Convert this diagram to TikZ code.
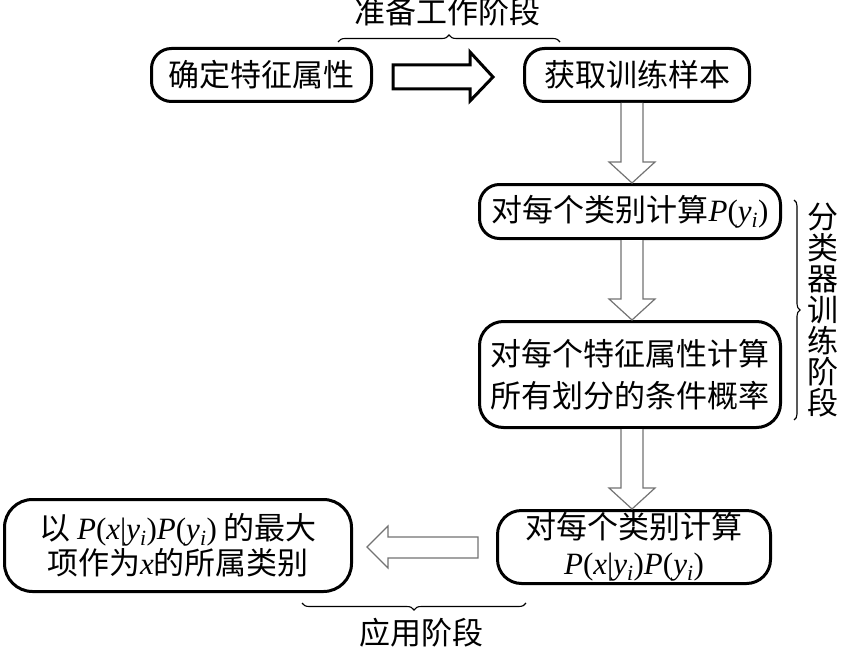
\documentclass[tikz,border=0pt]{standalone}
\usepackage{fontspec}
\setmainfont{Liberation Serif}
\newfontfamily\cjk{Noto Sans CJK SC}
\usetikzlibrary{calc,decorations.pathreplacing}
\newcommand\Pyi{{\rmfamily\textit{P}(\textit{y}\textsubscript{\textit{i}})}}
\newcommand\Pxyi{{\rmfamily\textit{P}(\textit{x}|\textit{y}\textsubscript{\textit{i}})}}
\newcommand\hdarrow[2]{%
  \draw[hollow]
    ($(ax |- #1.south)+(-11,0)$) -- ($(ax |- #2.north)+(-11,-21)$)
    -- ($(ax |- #2.north)+(-23,-21)$) -- (ax |- #2.north)
    -- ($(ax |- #2.north)+(23,-21)$) -- ($(ax |- #2.north)+(11,-21)$)
    -- ($(ax |- #1.south)+(11,0)$);}
\tikzset{
  box/.style={draw, line width=3pt, rounded corners=20pt, inner sep=0pt, align=center},
  hollow/.style={draw=black!55, line width=1.2pt, fill=white},
  bigarrow/.style={draw=black, line width=3pt, fill=white, line join=miter},
  brace/.style={decorate, decoration={brace, amplitude=7pt}, line width=1.1pt},
  lbl/.style={inner sep=0pt}
}
\begin{document}
\begin{tikzpicture}[x=1pt,y=-1pt, font=\cjk\fontsize{31}{34}\selectfont]
\useasboundingbox[fill=white] (0,0) rectangle (842,650);
\coordinate (ax) at (632,0);
% boxes
\node[box, minimum width=220pt, minimum height=53pt] (b1) at (261.5,75) {确定特征属性};
\node[box, minimum width=225pt, minimum height=53pt] (b2) at (637,75) {获取训练样本};
\node[box, minimum width=301pt, minimum height=54pt] (b3) at (630,211.5) {对每个类别计算\Pyi};
\node[box, minimum width=301pt, minimum height=106pt, rounded corners=24pt,
      font=\cjk\fontsize{31}{42}\selectfont] (b4) at (630,374.5) {对每个特征属性计算\\所有划分的条件概率};
\node[box, minimum width=273pt, minimum height=73pt, rounded corners=24pt,
      font=\cjk\fontsize{31}{36}\selectfont] (b5) at (634,547) {对每个类别计算\\\Pxyi\Pyi};
\node[box, minimum width=347pt, minimum height=92pt, rounded corners=28pt,
      font=\cjk\fontsize{31}{35}\selectfont] (b6) at (178,545.5) {以 \Pxyi\Pyi\ 的最大\\项作为{\rmfamily\textit{x}}的所属类别};
% labels
\node[lbl] (t1) at (447,12) {准备工作阶段};
\node[lbl] (t2) at (421,633) {应用阶段};
\node[lbl, align=center, text width=31pt, font=\cjk\fontsize{31}{31}\selectfont] (t3) at (823,310)
  {分\\类\\器\\训\\练\\阶\\段};
% right big arrow
\coordinate (ra) at (393,77);
\draw[bigarrow] ($(ra)+(0,-12)$) -- ($(ra)+(77,-12)$) -- ($(ra)+(77,-25)$) -- ($(ra)+(100,0)$)
  -- ($(ra)+(77,24)$) -- ($(ra)+(77,12)$) -- ($(ra)+(0,12)$) -- cycle;
% down arrows
\hdarrow{b2}{b3}
\hdarrow{b3}{b4}
\hdarrow{b4}{b5}
% left arrow
\coordinate (la) at (367,547);
\draw[hollow] ($(la)+(111,-10)$) -- ($(la)+(21,-10)$) -- ($(la)+(21,-21)$) -- (la)
  -- ($(la)+(21,21)$) -- ($(la)+(21,11)$) -- ($(la)+(111,11)$) -- cycle;
% braces
\coordinate (bt1) at (338,42); \coordinate (bt2) at (560,42);
\draw[brace] (bt1) -- (bt2);
\coordinate (bb1) at (526,603); \coordinate (bb2) at (302,603);
\draw[brace] (bb1) -- (bb2);
\coordinate (br1) at (794,200); \coordinate (br2) at (794,420);
\draw[brace, decoration={brace, amplitude=6pt}] (br1) -- (br2);
\end{tikzpicture}
\end{document}
